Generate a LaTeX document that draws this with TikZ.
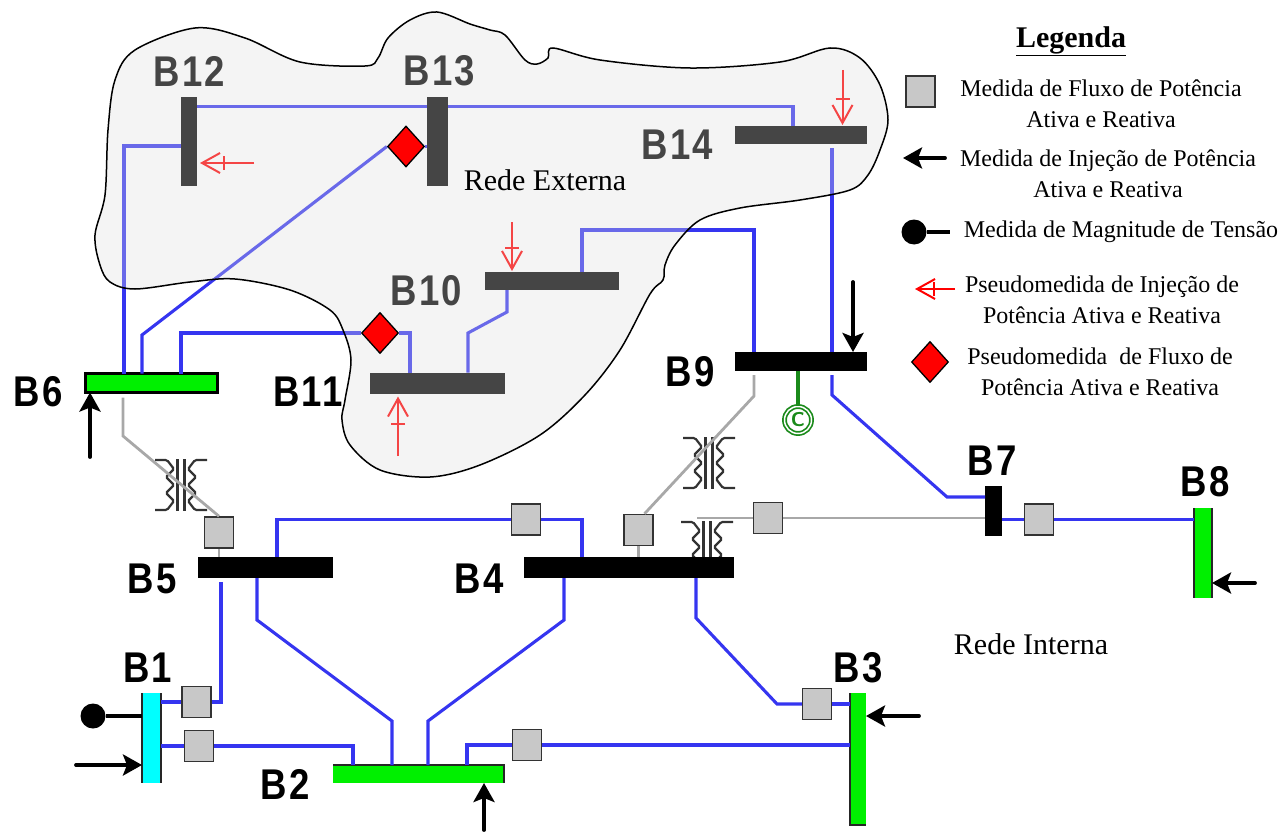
\documentclass[tikz,border=0pt]{standalone}
\usepackage{fontspec}
\setmainfont{Liberation Serif}
\newfontfamily\barrafont[FakeStretch=0.85,LetterSpace=5]{Liberation Sans}
\usetikzlibrary{arrows.meta, shapes.geometric, decorations.markings}
\definecolor{azul}{HTML}{3535F0}
\definecolor{cinza}{HTML}{A8A8A8}
\definecolor{fluxo}{HTML}{C8C8C8}
\definecolor{verde}{HTML}{00F000}
\definecolor{ciano}{HTML}{00FFFF}
\definecolor{verdec}{HTML}{1A8A1A}
\definecolor{nuvem}{HTML}{DCDCDC}
\definecolor{escuro}{HTML}{333333}
\pgfdeclarelayer{base}
\pgfdeclarelayer{veu}
\pgfsetlayers{base,veu,main}
\tikzset{
  barra/.style={inner sep=0pt, outer sep=0pt, fill=black},
  linha/.style={azul, line width=3.1pt},
  linhac/.style={cinza, line width=2.8pt},
  borda/.style={black!85, line width=2.4pt},
  medfluxo/.style={draw=escuro, line width=1.5pt, fill=fluxo, inner sep=0pt, minimum width=29pt, minimum height=31pt},
  pseudofluxo/.style={diamond, draw=black, line width=1.3pt, fill=red, inner sep=0pt, minimum width=37pt, minimum height=41pt},
  medida/.style={black, line width=3.8pt, line cap=round, -{Stealth[length=19pt, width=21pt, inset=4pt]}},
  medtensao/.style={circle, fill=black, inner sep=0pt, minimum size=25pt},
  pseudo/.style={red, line width=2pt, -{Straight Barb[length=18pt, width=20pt]},
    decoration={markings, mark=at position 0.52 with {\draw[red, line width=2pt, -, shorten >=0pt] (0,-7pt) -- (0,7pt);}},
    postaction={decorate}},
  rotulo/.style={font=\barrafont\bfseries\fontsize{43}{43}\selectfont},
  legenda/.style={font=\fontsize{24}{31}\selectfont, align=center, inner sep=0pt},
  rede/.style={font=\fontsize{30}{30}\selectfont, inner sep=0pt},
  trafo/.pic={
    \foreach \s in {-1,1} {
      \draw[escuro, line width=2.2pt, xscale=\s, rounded corners=1.5pt] (-26,-25) -- (-14,-25) -- (-7,-16) -- (-15,-8)
        -- (-7,0) -- (-15,8) -- (-7,16) -- (-14,25) -- (-26,25);
      \draw[escuro, line width=2.4pt, xscale=\s] (-3.5,-26) -- (-3.5,26);
    }
  }
}

\begin{document}
\begin{tikzpicture}[x=1pt, y=-1pt]
\useasboundingbox (0,0) rectangle (1279,832);

% ========== Top of the external network ==========
\node[pseudofluxo] (ds13) at (406,146.5) {};
\node[pseudofluxo] (ds11) at (380,333) {};
\node[rede] (rext) at (545,180) {Rede Externa};
\node[rede] (rint) at (1031,644) {Rede Interna};

\begin{pgfonlayer}{veu}
\path[fill=nuvem, fill opacity=0.315, draw=black, line width=1.5pt] plot[smooth cycle, tension=0.55] coordinates {
  (95,235) (105,195) (108,130) (115,80) (135,50) (195,28) (245,38) (300,62) (365,66) (378,58) (388,38)
  (410,20) (437,12) (470,24) (490,30) (505,35) (525,60) (537,64) (548,58) (553,48) (600,60) (690,68)
  (780,62) (830,48) (860,58) (880,85) (888,120) (880,150) (868,175) (850,190) (800,200) (740,208)
  (700,220) (675,245) (665,265) (663,280) (650,294) (620,350) (585,395) (540,435) (480,465) (430,477)
  (380,470) (350,445) (342,420) (345,400) (351,360) (343,330) (330,310) (290,290) (235,279) (190,282)
  (135,289) (110,282) (100,265)};
\end{pgfonlayer}

\begin{pgfonlayer}{base}
% Transformers
\pic at (181,485) {trafo};
\pic at (709,463) {trafo};
\pic at (707,547) {trafo};

% ========== Buses ==========
\node[barra, minimum width=16pt, minimum height=89pt] (b12) at (189,141.5) {};
\node[barra, minimum width=21pt, minimum height=89pt] (b13) at (437.5,141.5) {};
\node[barra, minimum width=132pt, minimum height=18pt] (b14) at (801,135) {};
\node[barra, minimum width=134pt, minimum height=18pt] (b10) at (552,281) {};
\node[barra, minimum width=135pt, minimum height=21pt] (b11) at (437.5,383) {};
\node[barra, minimum width=132pt, minimum height=19pt] (b9) at (801,361.5) {};
\node[barra, draw=black, line width=2.2pt, fill=verde, minimum width=132pt, minimum height=19pt] (b6) at (151.5,383) {};
\node[barra, minimum width=135pt, minimum height=21pt] (b5) at (265.5,567.5) {};
\node[barra, minimum width=210pt, minimum height=21pt] (b4) at (629,567.5) {};
\node[barra, minimum width=17pt, minimum height=50pt] (b7) at (993.5,511) {};
\node[barra, fill=verde, minimum width=18pt, minimum height=90pt] (b8) at (1203,553) {};
\node[barra, fill=ciano, minimum width=19pt, minimum height=90pt] (b1) at (151.5,738) {};
\node[barra, fill=verde, minimum width=171pt, minimum height=18pt] (b2) at (418.5,774) {};
\node[barra, fill=verde, minimum width=16pt, minimum height=132pt] (b3) at (858,759) {};

\foreach \b in {b1,b8} {
  \draw[borda] (\b.north west) -- (\b.south west);
  \draw[borda] (\b.north east) -- (\b.south east);
}
\draw[borda] (b3.north west) -- (b3.south west) -- (b3.south east);
\draw[borda] (b2.north west) -- (b2.north east) -- (b2.south east);

% Bus labels
\foreach \n/\x/\y in {12/189.5/71, 13/439.5/71, 14/677.5/145, 10/426.5/291, 11/308/392, 9/690/372, 6/38/392,
  5/152/579, 4/479/579, 7/992/461, 8/1205/482, 1/147.5/667.5, 2/285/784, 3/858/667.5} {
  \node[rotulo] (lb\n) at (\x,\y) {B\n};
}

% Flow measurements
\node[medfluxo] (mf5) at (219,532.5) {};
\node[medfluxo] (mf45) at (526,519.5) {};
\node[medfluxo] (mf49) at (638.5,530) {};
\node[medfluxo] (mf47) at (768,518) {};
\node[medfluxo] (mf78) at (1039,519.5) {};
\node[medfluxo] (mf15) at (196.5,702) {};
\node[medfluxo] (mf12) at (199,746) {};
\node[medfluxo] (mf23) at (527,745) {};
\node[medfluxo] (mf43) at (817,704) {};

% ========== External network lines ==========
\draw[linha] (b12.east |- 0,106.5) -- (b13.west |- 0,106.5);
\draw[linha] (b13.east |- 0,106.5) -- (793,106.5) -- (793,0 |- b14.north);
\draw[linha] (b12.west |- 0,146) -- (124,146) -- (124,0 |- b6.north);
\draw[linha] (ds13.east) -- (b13.west |- ds13.east);
\draw[linha] (ds13.west) -- (142,335) -- (142,0 |- b6.north);
\draw[linha] (181,0 |- b6.north) -- (181,333) -- (ds11.west);
\draw[linha] (ds11.east) -- (410,333) -- (410,0 |- b11.north);
\draw[linha] (468,0 |- b11.north) -- (468,333) -- (507,312) -- (507,0 |- b10.south);
\draw[linha] (582,0 |- b10.north) -- (582,230) -- (754,230) -- (754,0 |- b9.north);
\draw[linha, shorten <=4pt] (832,0 |- b14.south) -- (832,0 |- b9.north);

% ========== Internal network lines ==========
\draw[linha, shorten <=4pt] (832,0 |- b9.south) -- (832,395) -- (947,497) -- (b7.west |- 0,497);
\draw[linha] (b7.east |- mf78) -- (mf78);
\draw[linha] (mf78) -- (b8.west |- mf78);
\draw[linha] (277,0 |- b5.north) -- (277,519.5) -- (mf45);
\draw[linha] (mf45) -- (582,519.5) -- (582,0 |- b4.north);
\draw[linha, shorten <=4pt] (221,0 |- b5.south) -- (221,702) -- (mf15);
\draw[linha] (mf15) -- (b1.east |- mf15);
\draw[linha] (b1.east |- mf12) -- (mf12);
\draw[linha] (mf12) -- (353,746) -- (353,0 |- b2.north);
\draw[linha] (257,0 |- b5.south) -- (257,620) -- (392,721) -- (392,0 |- b2.north);
\draw[linha] (564,0 |- b4.south) -- (564,620) -- (428,721) -- (428,0 |- b2.north);
\draw[linha] (467,0 |- b2.north) -- (467,745) -- (mf23);
\draw[linha] (mf23) -- (b3.west |- mf23);
\draw[linha] (696,0 |- b4.south) -- (696,618) -- (777,704) -- (mf43);
\draw[linha] (mf43) -- (b3.west |- mf43);

% Transformer branches
\draw[linhac, shorten <=5pt] (123,0 |- b6.south) -- (123,436) -- (mf5.north);
\draw[linhac] (mf5.south) -- (mf5.south |- b5.north);
\draw[linhac, shorten <=4pt] (754,0 |- b9.south) -- (754,396) -- ([xshift=6pt]mf49.north);
\draw[linhac] (mf49.south) -- (mf49.south |- b4.north);
\coordinate (t47) at (697,518);
\draw[linhac] (t47) -- (mf47);
\draw[linhac] (mf47) -- (b7.west |- mf47);

% Synchronous condenser
\node[circle, draw=verdec, line width=1.7pt, double=white, double distance=1.5pt, inner sep=0pt, minimum size=27pt,
  text=verdec, font=\sffamily\bfseries\fontsize{20}{20}\selectfont] (c9) at (798,420) {C};
\draw[verdec, line width=3.8pt] (798,0 |- b9.south) -- (c9.north);

% Injection measurements
\coordinate (m6) at (90,457);
\coordinate (m9) at (853,282);
\coordinate (m8) at (1255,583);
\coordinate (m3) at (919,716);
\coordinate (m2) at (484,830);
\coordinate (m1) at (76,765);
\draw[medida] (m6) -- (m6 |- b6.south);
\draw[medida] (m9) -- (m9 |- b9.north);
\draw[medida] (m8) -- (m8 -| b8.east);
\draw[medida] (m3) -- (m3 -| b3.east);
\draw[medida] (m2) -- (m2 |- b2.south);
\draw[medida] (m1) -- (m1 -| b1.west);

% Voltage measurement
\node[medtensao] (v1) at (93,716) {};
\draw[black, line width=3.8pt] (v1) -- (v1 -| b1.west);

% Pseudo measurements
\coordinate (p12) at (254,163);
\coordinate (p14) at (842.5,70);
\coordinate (p10) at (512,222);
\coordinate (p11) at (398,456);
\draw[pseudo, shorten >=3pt] (p12) -- (p12 -| b12.east);
\draw[pseudo, shorten >=1pt] (p14) -- (p14 |- b14.north);
\draw[pseudo, shorten >=1pt] (p10) -- (p10 |- b10.north);
\draw[pseudo, shorten >=3pt] (p11) -- (p11 |- b11.south);
\end{pgfonlayer}

% ========== Legend ==========
\node[font=\bfseries\fontsize{30}{30}\selectfont, inner sep=0pt] (leg) at (1071,41) {\underline{Legenda}};

\node[medfluxo] (lfluxo) at (920.5,91.5) {};
\node[legenda] (tfluxo) at (1101,103.5) {Medida de Fluxo de Potência\\Ativa e Reativa};

\coordinate (linj) at (945,158);
\draw[medida] (linj) -- (903,158);
\node[legenda] (tinj) at (1108,173.5) {Medida de Injeção de Potência\\Ativa e Reativa};

\node[medtensao] (ltensao) at (914,232) {};
\coordinate (ltens) at (950,232);
\draw[black, line width=3.8pt] (ltensao) -- (ltens);
\node[legenda] (ttensao) at (1121,232) {Medida de Magnitude de Tensão};

\coordinate (lpinj) at (955,289);
\draw[pseudo] (lpinj) -- (915,289);
\node[legenda] (tpinj) at (1102,300) {Pseudomedida de Injeção de\\Potência Ativa e Reativa};

\node[pseudofluxo] (lpf) at (930,362) {};
\node[legenda] (tpf) at (1100,371.5) {Pseudomedida\ \ de Fluxo de\\Potência Ativa e Reativa};

\end{tikzpicture}
\end{document}
